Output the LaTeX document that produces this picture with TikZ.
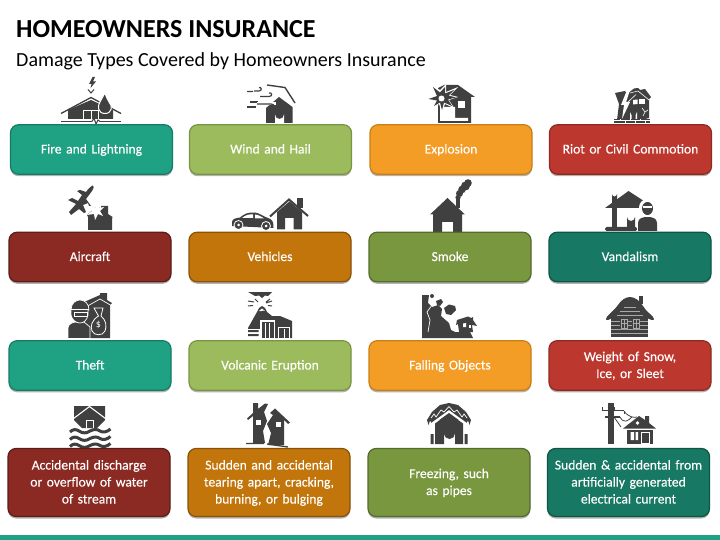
\documentclass[tikz,border=0pt]{standalone}
\usepackage{xcolor}
\usepackage{fontspec}
\setmainfont{Carlito}
\newfontfamily\boxfont[FakeBold=0.2,WordSpace=0.75]{Carlito}
\usetikzlibrary{shadows}

\definecolor{iconcol}{HTML}{404040}
\definecolor{tealfill}{HTML}{1FA184}
\definecolor{tealedge}{HTML}{167A66}
\definecolor{leaffill}{HTML}{9BBB5C}
\definecolor{leafedge}{HTML}{7A9444}
\definecolor{ambfill}{HTML}{F39C26}
\definecolor{ambedge}{HTML}{C97F14}
\definecolor{redfill}{HTML}{BC372E}
\definecolor{rededge}{HTML}{8E2A22}
\definecolor{wine}{HTML}{8B2A23}
\definecolor{wineedge}{HTML}{5C1C17}
\definecolor{rust}{HTML}{C2750A}
\definecolor{rustedge}{HTML}{8A5208}
\definecolor{olive}{HTML}{78973F}
\definecolor{oliveedge}{HTML}{556B2D}
\definecolor{pine}{HTML}{177863}
\definecolor{pineedge}{HTML}{0F5544}

\tikzset{
	typebox/.style={rectangle, rounded corners=8pt, line width=1.2pt, minimum width=162pt, minimum height=49.5pt,
		inner sep=0pt, text width=158pt, align=center, text=white, font=\boxfont\fontsize{13.6}{17}\selectfont,
		execute at begin node={\vrule height 13pt depth 0pt width 0pt},
		execute at end node={\vrule height 0pt depth 5pt width 0pt},
		drop shadow={shadow xshift=0pt, shadow yshift=-2pt, fill=black, opacity=.3}},
	tallbox/.style={typebox, minimum height=68pt},
	tealbox/.style={fill=tealfill, draw=tealedge},
	leafbox/.style={fill=leaffill, draw=leafedge},
	ambbox/.style={fill=ambfill, draw=ambedge},
	redbox/.style={fill=redfill, draw=rededge},
	winebox/.style={fill=wine, draw=wineedge},
	rustbox/.style={fill=rust, draw=rustedge},
	olivebox/.style={fill=olive, draw=oliveedge},
	pinebox/.style={fill=pine, draw=pineedge},
	icon/.style={fill=iconcol},
	iconline/.style={draw=iconcol, line width=1.3pt},
	cut/.style={draw=white, line width=.8pt},
	logline/.style={draw=iconcol!45!white, line width=.45pt},
}

\begin{document}
\begin{tikzpicture}[x=1pt,y=-1pt]
	\useasboundingbox (0,0) rectangle (720,540);
	
	% ---------- Title ----------
	\node[anchor=base west, inner sep=0pt, font=\fontsize{26}{30}\selectfont\bfseries] (title) at (16,37.5) {HOMEOWNERS INSURANCE};
	\node[anchor=base west, inner sep=0pt, font=\fontsize{20}{24}\selectfont] (subtitle) at (16,67) {Damage Types Covered by Homeowners Insurance};
	
	% ---------- Row 1 icons ----------
	% fire and lightning
	\fill[icon] (68,119) -- (68,110) -- (91,100) -- (113,110) -- (113,119) -- cycle;
	\draw[iconline] (61,113.5) -- (91,97.5) -- (121,113.5);
	\draw[iconline] (61,121.5) -- (121,121.5);
	\draw[cut] (83.5,119) -- (83.5,110) -- (98,110) -- (98,119) (91,110) -- (91,119);
	\draw[white, line width=2pt] (92,121.5) -- (100,121.5);
	\draw[iconcol, line width=1pt] (92,121.5) -- (94,118) -- (96,124) -- (98,120) -- (100,121.5);
	\filldraw[icon, draw=white, line width=1pt] (105,113.5) .. controls (98,113.5) and (97,106) .. (100,102) .. controls (101,100) and (103,97) .. (104.5,93) .. controls (107,97) and (107,100) .. (109,102) .. controls (113,106) and (112,113.5) .. (105,113.5);
	\fill[icon] (92.5,77) -- (89,84) -- (91.5,84) -- (90.5,88) -- (96,81.5) -- (93,81.5) -- (95,77) -- cycle;
	\draw[iconcol, line width=1pt] (88,89.5) -- (91,93) -- (94,89.5);
	
	% wind and hail
	\fill[icon] (266,123) -- (266,108) -- (279,97) -- (292.5,107) -- (292.5,123) -- cycle;
	\fill[white] (275,123) -- (275,114.5) arc (180:0:4.5) -- (284,123) -- cycle;
	\draw[iconcol, line width=1.4pt] (267,85) -- (285,87.5) -- (295,103);
	\draw[iconcol, line width=1.2pt] (247,91.5) -- (253,91.5) (254,91) -- (259,91) .. controls (262,91) and (262,87) .. (259,87.5);
	\draw[iconcol, line width=1.2pt] (260,96.5) -- (269,96.5) .. controls (273,96.5) and (272,92) .. (269,93);
	\draw[iconcol, line width=1.2pt] (250,102) -- (258,102) (247,107) -- (256,107);
	\draw[white, line width=3pt] (257,104) -- (276,104);
	\draw[iconcol, line width=1.2pt] (257,104) -- (271,104) .. controls (275,104) and (275,108) .. (271,108);
	
	% explosion
	\fill[icon] (438,123) -- (438,88) -- (444,85) -- (458,85) -- (475,97) -- (471,97) -- (471,123) -- cycle;
	\fill[white] (440,121) -- (440,107) -- (455,107) -- (455,118) -- (468,118) -- (468,121) -- cycle;
	\fill[white] (457.5,101) rectangle (465,108.5);
	\fill[white] (431,85) -- (440,90) -- (446,84) -- (446,92) -- (458,87) -- (450,95) -- (458,97) -- (449,100) -- (454,108) -- (445,104) -- (442,112) -- (439,104) -- (432,108) -- (436,101) -- (426,99) -- (435,96) -- cycle;
	\fill[icon] (433,87) -- (440,92.5) -- (445,87) -- (445,93.5) -- (454,90) -- (448.5,95.5) -- (456,97.5) -- (448,99.5) -- (452,106) -- (444,102.5) -- (442,110) -- (440,102.5) -- (434,106) -- (437,100.5) -- (428.5,99) -- (437,96) -- cycle;
	\fill[white] (441.5,98.5) circle (3pt);
	
	% riot or civil commotion
	\fill[icon] (615,93) -- (625,91) -- (627,94) -- (634,88.5) -- (638,88) -- (640,90) -- (645,89) -- (651,97) -- (649,99) -- (649,118) -- (645,119) -- (645,120) -- (617,120) -- (619,104) -- cycle;
	\fill[white] (627,90) -- (630,90) -- (626,102) -- (630,102) -- (622,119) -- (624,105) -- (621,105) -- cycle;
	\draw[white, line width=.6pt] (630,93) -- (638,91) -- (649,100) (628,102) -- (636,94.5);
	\fill[white] (633,100) -- (637.5,99.5) -- (637.5,104) -- (633,104.5) -- cycle;
	\fill[white] (639,99.5) -- (644.5,99.5) -- (644.5,104) -- (639,104) -- cycle;
	\fill[white] (630,119) -- (630,112) arc (180:0:3.5) -- (637,119) -- cycle;
	\fill[icon] (631.5,119) -- (631.5,112.5) arc (180:0:2) -- (635.5,119) -- cycle;
	\draw[white, line width=.6pt] (642,108) -- (645,112) -- (643,116) (645,112) -- (648,110);
	\fill[icon] (614,119) rectangle (650,123);
	\draw[white, line width=.5pt] (614,120.7) -- (650,120.7) (620,119) -- (620,120.7) (630,119) -- (630,120.7) (640,119) -- (640,120.7) (625,120.7) -- (625,123) (635,120.7) -- (635,123) (645,120.7) -- (645,123);
	
	% ---------- Row 2 icons ----------
	% aircraft
	\fill[icon] (93,185.5) .. controls (91,186) and (88,189) .. (86,192) -- (80,190) -- (77,191) -- (82,195) -- (78,201) -- (72,198) -- (68,200) -- (76,204) -- (69,212) -- (71,215) -- (79,209) -- (84,213) -- (86,212) -- (83,205) -- (88,203) -- (89,206) -- (91,206) -- (86,199) -- (92,191) .. controls (94,188) and (94,186) .. (93,185.5) -- cycle;
	\fill[icon] (88,230) -- (88,217) -- (87,215) -- (97,206) -- (101,209) -- (101,206) -- (108,206) -- (108,214) -- (112.5,217) -- (112,219) -- (112,230) -- cycle;
	\fill[white] (98,202) -- (99,208) -- (104,207) -- (100,211) -- (103,216) -- (98,214) -- (95,220) -- (94,214) -- (87,215) -- (92,211) -- (89,206) -- (95,208) -- cycle;
	
	% vehicles
	\fill[icon] (232,226) -- (232,222) .. controls (232,219) and (236,218) .. (240,217.5) .. controls (244,214) and (248,212) .. (255,212.5) .. controls (260,213) and (264,217) .. (268,218) .. controls (272,219) and (274,222) .. (273.5,228) -- (232,226) -- cycle;
	\fill[white] (242,218) .. controls (246,214.5) and (250,214) .. (253,214.5) -- (253,218) -- cycle;
	\fill[white] (255,214.5) .. controls (258,214.5) and (262,217) .. (264,218.5) -- (255,218.5) -- cycle;
	\filldraw[icon, draw=white, line width=.8pt] (238.5,225) circle (4.5pt);
	\filldraw[icon, draw=white, line width=.8pt] (266,226) circle (4.5pt);
	\fill[white] (238.5,225) circle (1.5pt) (266,226) circle (1.5pt);
	\fill[icon] (277,229.5) -- (277,212) -- (289.5,201.5) -- (302,212) -- (302,229.5) -- (293.5,229.5) -- (293.5,218) -- (285,218) -- (285,229.5) -- cycle;
	\fill[icon] (297,198) rectangle (303,208);
	\draw[white, line width=3.5pt] (268,216) -- (289.5,197);
	\draw[iconcol, line width=2pt] (270,216.5) -- (289,199.5) -- (308,216);
	
	% smoke
	\fill[icon] (433,232) -- (433,214.5) -- (430,214.5) -- (447.5,198) -- (465,214.5) -- (462,214.5) -- (462,232) -- (453,232) -- (453,222) -- (442,222) -- (442,232) -- cycle;
	\fill[icon] (456,208) -- (456,198) -- (460,198) -- (460,208) -- cycle;
	\fill[icon] (458,197.5) circle (2.6pt) (459.5,193.5) circle (3.5pt) (462,189.5) circle (3.8pt) (465.5,186) circle (4.5pt) (468,183) circle (3.8pt);
	
	% vandalism
	\fill[icon] (605,208) -- (628.5,191) -- (647,203) -- (647,208) -- cycle;
	\fill[icon] (612,208) -- (612,194) arc (180:0:2.5) -- (617,208) -- cycle;
	\fill[icon] (612,208) rectangle (617,228);
	\fill[icon, rounded corners=1.5pt] (605,227) rectangle (637,231);
	\fill[icon] (627,229.5) -- (627,217) arc (180:0:4) -- (635,229.5) -- cycle;
	\fill[white] (647.5,207.5) circle (8.5pt);
	\fill[white] (636.5,216) rectangle (658,231);
	\fill[icon] (647.5,208.5) ellipse (5.5pt and 6.5pt);
	\fill[white] (643,206) rectangle (652,208.5);
	\fill[icon] (638,231) -- (638,223) .. controls (638,218) and (643,217) .. (647.5,217) .. controls (652,217) and (657,218) .. (657,223) -- (657,231) -- cycle;
	
	% ---------- Row 3 icons ----------
	% theft
	\fill[icon] (85,338) -- (85,303) -- (84,302) -- (100,295) -- (100,293) -- (107,293) -- (107,300) -- (112,303) -- (110,305) -- (110,338) -- cycle;
	\draw[white, line width=.7pt] (84,308) -- (100,299) -- (112,306);
	\filldraw[icon, draw=white, line width=.7pt] (68,338.5) -- (68,328) .. controls (68,324) and (73,322) .. (76,322) -- (84,322) -- (90,327) -- (90,338.5) -- cycle;
	\filldraw[icon, draw=white, line width=.7pt] (71,310) .. controls (71,303) and (76,300) .. (80,300) .. controls (85,300) and (89,304) .. (89,310) -- (88,310) -- (88,315) .. controls (87,320) and (84,323) .. (80,323) .. controls (76,323) and (72,320) .. (71,315) -- cycle;
	\draw[white, line width=.7pt] (71,309) -- (89,309);
	\draw[white, line width=.6pt] (74,312) rectangle (87,316);
	\filldraw[icon, draw=white, line width=.8pt] (98.5,316) -- (94,308) -- (103,308) -- (101,316) .. controls (106,320) and (107,326) .. (105,331) .. controls (103,336) and (94,336) .. (92,331) .. controls (90,326) and (92,320) .. (98.5,316) -- cycle;
	\node[text=white, inner sep=0pt, font=\fontsize{10}{10}\selectfont] (dollar) at (98.5,325) {\$};
	
	% volcanic eruption
	\fill[icon] (248,292) -- (272,292) -- (268,296) -- (265,295.5) -- (262,298) -- (259,295.5) -- (255,296) -- cycle;
	\draw[iconcol, line width=1pt] (255,299) -- (258,302) (270,299) -- (266,302) (248,301) -- (254,302) (272,301) -- (266,303) (248,306) -- (253,305.5) (272,306) -- (268,305.5);
	\fill[icon] (248,330) -- (248,328) -- (257,312) -- (259,308) -- (262,306) -- (265,308) -- (267,312) -- (272,316) -- (280,316) -- (292,321) -- (292,338) -- (248,338) -- cycle;
	\fill[white] (259,311) -- (262,308.5) -- (265,311) -- (263,310.5) -- (261.5,311) -- cycle;
	\fill[white] (260,320) rectangle (275,339);
	\fill[icon] (261.5,321.5) rectangle (273.5,338);
	\draw[white, line width=.9pt] (265.5,323) -- (265.5,338) (269.5,323) -- (269.5,338);
	\fill[white] (278,327) rectangle (290,339);
	\fill[icon] (279,328) rectangle (289,338);
	\draw[white, line width=.9pt] (284,329) -- (284,338);
	\fill[white] (248,329) rectangle (260,339);
	\fill[icon] (248,330) rectangle (258.5,332) (248,334) rectangle (258.5,336);
	
	% falling objects
	\fill[icon] (422,295) -- (429,295) -- (428,303) -- (432,307) -- (438,305) -- (442,309) -- (441,316) -- (449,323) -- (451,330) -- (455,332) -- (470,332) -- (473,338) -- (422,338) -- cycle;
	\draw[white, line width=.7pt] (432,305) -- (427,312) -- (430,320) -- (428,332);
	\fill[icon] (432,296) circle (2pt);
	\fill[icon] (436,301) -- (441,299) -- (443,302) -- (440,306) -- (437,305) -- cycle;
	\fill[icon] (444,308) -- (449,304.5) -- (455,306) -- (456,310) -- (451,315) -- (446,314) -- cycle;
	\fill[icon] (457,320) -- (468,316.5) -- (471,318) -- (473,317) -- (473,320) -- (477,326) -- (472,325) -- (473,332) -- (459,332) -- (458,324) -- (456,325) -- cycle;
	\fill[white] (463,327) -- (463,323.5) -- (466,323) -- (466,327) -- cycle;
	\fill[white] (469,325) rectangle (471,328);
	
	% weight of snow
	\fill[icon] (639,296) rectangle (643,304);
	\fill[icon] (606,319) .. controls (606,316) and (613,312) .. (618,305) .. controls (621,300) and (626,297) .. (630,297) .. controls (635,297) and (640,301) .. (643,306) .. controls (646,312) and (654,316) .. (654,319) .. controls (654,321) and (651,320) .. (647,318) -- (612,318) .. controls (609,320) and (606,321) .. (606,319) -- cycle;
	\fill[icon] (611,337) -- (611,316) -- (648,316) -- (648,337) -- cycle;
	\draw[logline] (611,321) -- (648,321) (611,325) -- (648,325) (611,329) -- (648,329) (611,333) -- (648,333) (624,307) -- (636,307) (620,311) -- (640,311) (617,315) -- (643,315);
	\fill[icon] (620,318.5) rectangle (628,329) (632,318.5) rectangle (640,329);
	\draw[logline] (621,319.5) rectangle (627,328) (624,319.5) -- (624,328) (621,323.5) -- (627,323.5) (633,319.5) rectangle (639,328) (636,319.5) -- (636,328) (633,323.5) -- (639,323.5);
	
	% ---------- Row 4 icons ----------
	% accidental discharge
	\fill[icon] (74,406) -- (105,406) -- (105,420) -- (97,428) -- (82,428) -- (74,420) -- cycle;
	\draw[white, line width=1.1pt] (71.5,420) -- (89.5,406.5) -- (107.5,420);
	\draw[cut] (86,428) -- (86,420.5) -- (93,420.5) -- (93,428);
	\foreach \wy in {430,437.5,444.5} {
		\draw[iconcol, line width=3pt] (70,\wy+2) .. controls (73,\wy-1) and (76,\wy-1) .. (79,\wy+1) .. controls (83,\wy+3.5) and (86,\wy+3.5) .. (90,\wy+1) .. controls (94,\wy-1) and (97,\wy-1) .. (100,\wy+1) .. controls (103,\wy+3) and (107,\wy+2) .. (110.5,\wy-1);
	}
	
	% sudden and accidental tearing
	\fill[icon] (253,443) -- (253,416) -- (248,420) -- (247,418.5) -- (253,413) -- (253,403) -- (258,403) -- (258,409) -- (265,403.5) -- (268,404) -- (264,412) -- (267,421) -- (263,431) -- (265,443) -- cycle;
	\fill[icon] (268,445) -- (271,433) -- (267,424) -- (273,415) -- (270,413) -- (275,408.5) -- (290,422.5) -- (288,424) -- (284,420) -- (284,445) -- cycle;
	\fill[white] (256,420) rectangle (260.5,424.5);
	\fill[white] (276,422) rectangle (281,427);
	\draw[iconcol, line width=1.3pt] (246,443.5) -- (264,443.5) (267,444) -- (288,447);
	
	% freezing
	\fill[icon] (427,420) -- (432,412) -- (440,405) -- (449,403) -- (458,405) -- (466,412) -- (471,420) -- (469.5,425) -- (468,420.5) -- (466,424) -- (463,420) -- (435,420) -- (432,424) -- (430,420.5) -- (428.5,425) -- cycle;
	\draw[white, line width=.7pt] (431,418) -- (434,414) -- (436,417) -- (441,410) -- (444,412) -- (449,406.5) -- (454,412) -- (457,410) -- (462,417) -- (464,414) -- (467,418);
	\draw[white, line width=2.2pt] (431,424.5) -- (449,411.5) -- (467,424.5);
	\fill[icon] (435,444) -- (435,423.5) -- (449,413.5) -- (463,423.5) -- (463,444) -- (455,444) -- (455,433.5) arc (0:180:5.5) -- (444,444) -- cycle;
	\fill[icon] (430.5,434) rectangle (433.5,444) (464.5,434) rectangle (467.5,444);
	
	% sudden and accidental current
	\fill[icon] (608,444) -- (608,403) -- (614,403) -- (614,444) -- cycle;
	\draw[iconcol, line width=1.5pt] (602,410.5) -- (624,410.5) (605,417) -- (620,417);
	\draw[iconcol, line width=1pt] (602,407) -- (602,410) (608,405) -- (608,410) (614,407) -- (614,410) (624,414) -- (624,411);
	\draw[iconcol, line width=.8pt] (614,417) -- (621,427) (620,417) .. controls (624,424) and (628,421) .. (632,417) (624,411) .. controls (628,417) and (634,418) .. (637,417);
	\fill[icon] (623,428.5) -- (639,416) -- (645,420) -- (645,416) -- (649,416) -- (649,423) -- (656,428.5) -- cycle;
	\fill[icon] (627,444) -- (627,430) -- (653,430) -- (653,444) -- cycle;
	\fill[white] (630.5,432) rectangle (634,440) (635.5,432) rectangle (638,440);
	\fill[white] (641,432) rectangle (650,444);
	\fill[icon] (642,433) rectangle (649,443);
	\fill[white] (637.5,423) circle (1.8pt);
	
	% ---------- Boxes ----------
	\node[typebox, tealbox] (fire) at (91.5,149.5) {Fire and Lightning};
	\node[typebox, leafbox] (wind) at (270.5,149.5) {Wind and Hail};
	\node[typebox, ambbox] (explosion) at (451,149.5) {Explosion};
	\node[typebox, redbox] (riot) at (630.5,149.5) {Riot or Civil Commotion};
	
	\node[typebox, winebox] (aircraft) at (90,257) {Aircraft};
	\node[typebox, rustbox] (vehicles) at (270,257) {Vehicles};
	\node[typebox, olivebox] (smoke) at (450,257) {Smoke};
	\node[typebox, pinebox] (vandalism) at (630,257) {Vandalism};
	
	\node[typebox, tealbox] (theft) at (90,365.5) {Theft};
	\node[typebox, leafbox] (volcanic) at (270,365.5) {Volcanic Eruption};
	\node[typebox, ambbox] (falling) at (450,365.5) {Falling Objects};
	\node[typebox, redbox] (snow) at (630,365.5) {Weight of Snow,\\Ice, or Sleet};
	
	\node[tallbox, winebox] (discharge) at (89,482.5) {Accidental discharge\\or overflow of water\\of stream};
	\node[tallbox, rustbox] (tearing) at (269,482.5) {Sudden and accidental\\tearing apart, cracking,\\burning, or bulging};
	\node[tallbox, olivebox] (freezing) at (449,482.5) {Freezing, such\\as pipes};
	\node[tallbox, pinebox] (current) at (628.5,482.5) {Sudden \& accidental from\\artificially generated\\electrical current};
	
	% ---------- Bottom bar ----------
	\fill[tealfill] (0,535) rectangle (720,540);
\end{tikzpicture}
\end{document}
